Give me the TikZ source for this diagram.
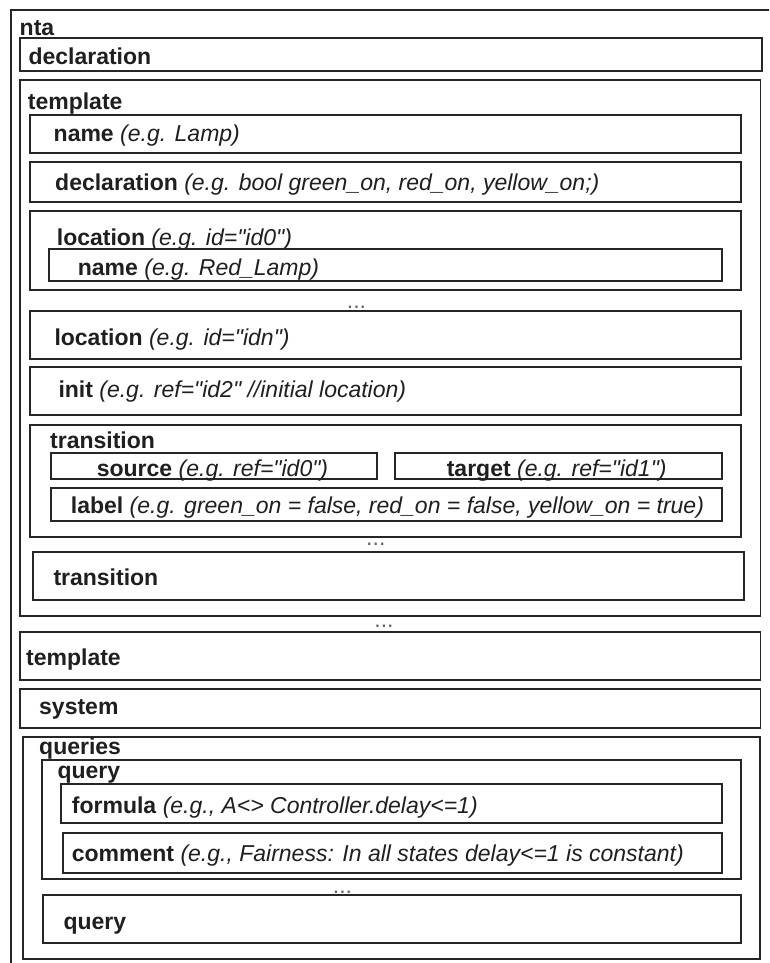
\documentclass[tikz,border=0pt]{standalone}
\usepackage{fontspec}
\setmainfont{Liberation Sans}[Ligatures=TeXOff]
\newcommand\bx[5]{\node[box, minimum width={#4-#2}, minimum height={#5-#3}, anchor=north west] (#1) at (#2,#3) {};}
\newcommand\eg[1]{\textit{#1}}
\begin{document}
\begin{tikzpicture}[x=1pt,y=-1pt,
  box/.style={draw=black!85, line width=1.7pt, inner sep=0pt, outer sep=0pt},
  lab/.style={inner sep=0pt, text=black!88, font=\fontsize{23}{27}\selectfont, anchor=base west, yshift=-1.5pt},
  clab/.style={lab, anchor=base},
  dots/.style={inner sep=0pt, text=black!60, font=\fontsize{23}{27}\selectfont, anchor=base}]
\useasboundingbox (0,0) rectangle (769,963);
\clip (0,0) rectangle (769,963);
\fill[white] (0,0) rectangle (769,963);
% nta
\bx{nta}{11}{10}{790}{990}
\node[lab] (tnta) at (19.5,34) {\textbf{nta}};
% declaration
\bx{decl}{20}{38}{762}{71}
\node[lab] (tdecl) at (28.3,63) {\textbf{declaration}};
% template
\bx{tmpl}{20}{80}{760.5}{616}
\node[lab] (ttmpl) at (27.7,108.5) {\textbf{template}};
\bx{tname}{30}{115}{741}{153.3}
\node[lab] (ttname) at (53.5,140.5) {\textbf{name} \eg{(e.g. Lamp)}};
\bx{tdec}{30}{161.7}{741}{201.7}
\node[lab] (ttdec) at (55,189) {\textbf{declaration} \eg{(e.g. bool green\_on, red\_on, yellow\_on;)}};
\bx{loc0}{30}{210.7}{740.7}{290}
\node[lab] (tloc0) at (56.7,243.5) {\textbf{location} \eg{(e.g. id="id0")}};
\bx{lname}{49.3}{249.3}{721.7}{281}
\node[lab] (tlname) at (77.7,274) {\textbf{name} \eg{(e.g. Red\_Lamp)}};
\node[dots] (d1) at (356.5,308) {...};
\bx{locn}{30}{311}{740.7}{359.3}
\node[lab] (tlocn) at (54.3,344) {\textbf{location} \eg{(e.g. id="idn")}};
\bx{init}{30}{367.3}{740.7}{415}
\node[lab] (tinit) at (58.3,396) {\textbf{init} \eg{(e.g. ref="id2" //initial location)}};
\bx{tr1}{30}{425}{740.7}{536.7}
\node[lab] (ttr1) at (50,446.5) {\textbf{transition}};
\bx{src}{51}{452.7}{376.7}{479.3}
\node[clab] (tsrc) at (212.5,474.5) {\textbf{source} \eg{(e.g. ref="id0")}};
\bx{tgt}{395}{452.7}{721.7}{479.3}
\node[clab] (ttgt) at (556.7,474.5) {\textbf{target} \eg{(e.g. ref="id1")}};
\bx{lbl}{51}{488.3}{721.7}{520.7}
\node[lab] (tlbl) at (70.7,512) {\textbf{label} \eg{(e.g. green\_on = false, red\_on = false, yellow\_on = true)}};
\node[dots] (d2) at (375.8,545) {...};
\bx{tr2}{33.3}{551.7}{744.3}{600}
\node[lab] (ttr2) at (53.3,584.3) {\textbf{transition}};
\node[dots] (d3) at (384,627) {...};
% template 2
\bx{tmpl2}{20}{632.3}{760.5}{680}
\node[lab] (ttmpl2) at (26,664.3) {\textbf{template}};
% system
\bx{sys}{20}{689}{760.5}{727.7}
\node[lab] (tsys) at (39,712.7) {\textbf{system}};
% queries
\bx{qs}{22.7}{736.7}{760}{959}
\node[lab] (tqs) at (39,753.3) {\textbf{queries}};
\bx{q1}{41.7}{760}{740.7}{879.3}
\node[lab] (tq1) at (57.3,776.7) {\textbf{query}};
\bx{form}{61}{784}{721.7}{823.3}
\node[lab] (tform) at (71.7,812) {\textbf{formula} \eg{(e.g., A<> Controller.delay<=1)}};
\bx{comm}{62.7}{833.3}{721.7}{873.3}
\node[lab] (tcomm) at (71.7,860.3) {\textbf{comment} \eg{(e.g., Fairness: In all states delay<=1 is constant)}};
\node[dots] (d4) at (342.5,893) {...};
\bx{q2}{43}{895}{741}{943}
\node[lab] (tq2) at (63.3,928.3) {\textbf{query}};
\end{tikzpicture}
\end{document}
